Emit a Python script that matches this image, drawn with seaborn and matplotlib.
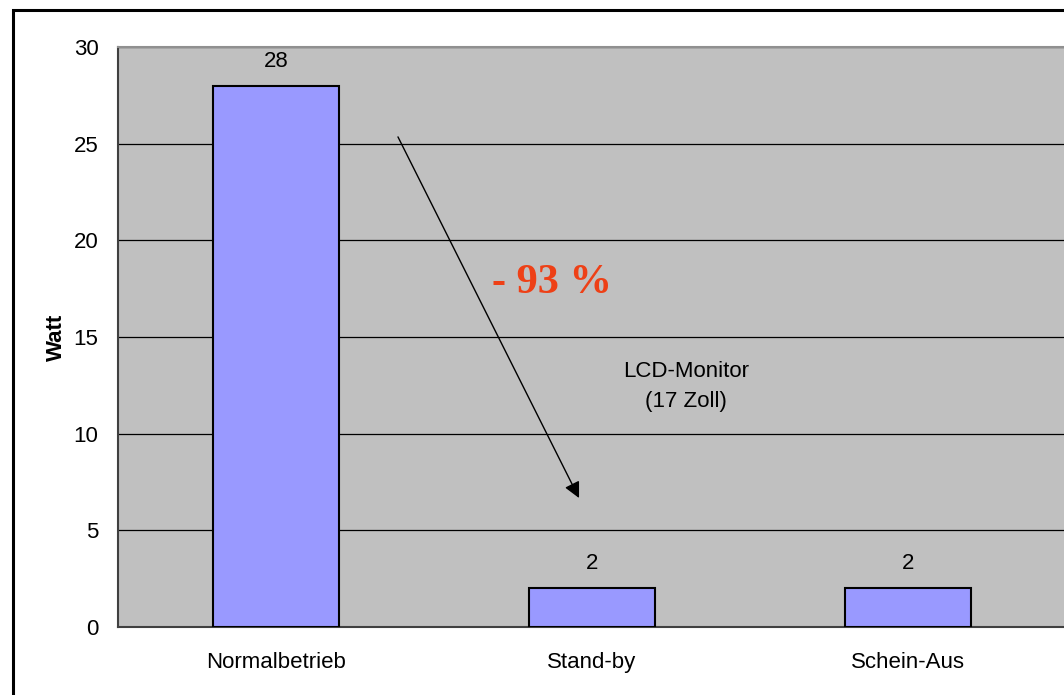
import matplotlib
matplotlib.use("Agg")
import matplotlib.pyplot as plt
from matplotlib.patches import Rectangle
from matplotlib.ticker import FixedLocator
import pandas as pd
import seaborn as sns

# Power draw of a 17" LCD monitor in its three operating states
categories = ["Normalbetrieb", "Stand-by", "Schein-Aus"]
watt = [28, 2, 2]
y_ticks = [0, 5, 10, 15, 20, 25, 30]

df = pd.DataFrame({"Zustand": categories, "Watt": watt})

sns.set_style("white")
plt.rcParams["font.family"] = ["Liberation Sans", "DejaVu Sans"]
plt.rcParams["text.color"] = "black"
plt.rcParams["axes.labelcolor"] = "black"
plt.rcParams["xtick.color"] = "black"
plt.rcParams["ytick.color"] = "black"

FS = 16

W, H = 1064, 695
fig = plt.figure(figsize=(W / 100, H / 100), dpi=100)
fig.patch.set_facecolor("white")

# plot area
ax = fig.add_axes([118 / W, (H - 627) / H, 948 / W, 580 / H])
ax.set_facecolor("#C0C0C0")

sns.barplot(data=df, x="Zustand", y="Watt", ax=ax, color="#9999FF",
            saturation=1, width=0.4, edgecolor="black", linewidth=1.5,
            zorder=3)

ax.set_xlim(-0.5, 2.5)
ax.set_ylim(0, 30)
ax.set_yticks(y_ticks)
ax.set_yticklabels([str(v) for v in y_ticks], fontsize=FS)

# horizontal gridlines
ax.yaxis.grid(True, color="black", linewidth=0.9, zorder=1)
ax.set_axisbelow(True)

# category labels centered, tick marks between categories
ax.set_xticks(range(len(categories)))
ax.set_xticklabels(categories, fontsize=FS)
ax.tick_params(axis="x", which="major", length=0, pad=18)
ax.xaxis.set_minor_locator(FixedLocator([-0.5, 0.5, 1.5, 2.5]))
ax.tick_params(axis="x", which="minor", direction="out", length=7,
               width=1, color="#404040")
ax.tick_params(axis="y", direction="inout", length=10, width=1,
               color="#404040", pad=9)

ax.set_xlabel("")
ax.set_ylabel("Watt", fontsize=FS, fontweight="bold", labelpad=5)

for side in ["left", "bottom"]:
    ax.spines[side].set_color("#404040")
    ax.spines[side].set_linewidth(1.5)
ax.spines["top"].set_color("#909090")
ax.spines["top"].set_linewidth(1.5)
ax.spines["right"].set_visible(False)

# value labels above bars
for container in ax.containers:
    ax.bar_label(container, labels=[str(v) for v in watt], padding=10,
                 fontsize=FS, color="black")

# reduction arrow and annotation
ax.annotate("", xy=(0.959, 6.67), xytext=(0.386, 25.35),
            arrowprops=dict(arrowstyle="-|>", color="black", lw=1,
                            mutation_scale=24, shrinkA=0, shrinkB=0),
            zorder=5)
ax.text(0.873, 17.8, "- 93 %", ha="center", va="center",
        fontsize=30.5, fontweight="bold", color="#EE4016",
        family=["Liberation Serif", "DejaVu Serif"], zorder=6)
ax.text(1.297, 12.45, "LCD-Monitor\n(17 Zoll)", ha="center", va="center",
        fontsize=FS, linespacing=1.6, color="black", zorder=6)

# frame around the chart area
fig.add_artist(Rectangle((13 / W, -0.1), 1.2, (H - 10) / H + 0.1,
                         transform=fig.transFigure, fill=False,
                         edgecolor="black", linewidth=2.2))

fig.savefig("out.png", dpi=100)
